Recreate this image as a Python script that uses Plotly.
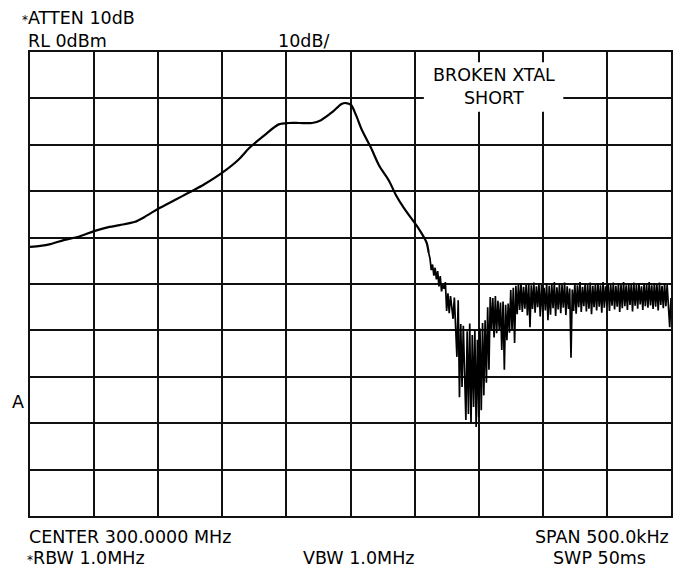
import plotly.graph_objects as go

# Spectrum analyzer trace: frequency offset from centre (kHz) and level (dBm)
smooth_khz = [-250, -242, -234, -223, -211, -200, -188, -180, -168, -161, -150,
              -137, -126, -114, -100, -87, -79, -67, -56, -48, -40, -30, -23,
              -14, -7, -3.5, 0.4, 4.3, 8.9, 15.9, 22.2, 29.9, 35.4, 41.6, 48.6,
              53.3, 57.2, 59.5, 61.0]
smooth_dbm = [-42.0, -41.8, -41.4, -40.5, -39.7, -38.6, -37.7, -37.3, -36.6,
              -35.6, -33.8, -31.9, -30.3, -28.5, -26.0, -23.1, -20.7, -17.9,
              -15.6, -15.3, -15.3, -15.3, -14.7, -12.9, -11.2, -11.0, -11.4,
              -13.6, -16.8, -20.6, -24.4, -27.7, -30.8, -33.6, -36.3, -38.1,
              -39.9, -41.2, -43.3]

# Noisy skirt and noise floor, one sample per kHz from +62 kHz to +250 kHz
noise_start_khz = 62
noise_dbm = [
    -44.5, -47.0, -45.8, -48.2, -46.5, -49.0, -47.2, -50.5, -48.3, -51.6,
    -50.2, -51.0, -49.6, -55.8, -52.0, -56.3, -52.6, -55.0, -57.5, -52.9,
    -58.0, -65.7, -53.5, -74.4, -58.6, -72.2, -59.0, -71.3, -79.3, -60.2,
    -78.0, -58.5, -80.0, -61.0, -76.5, -60.0, -80.8, -62.0, -78.7, -59.6,
    -77.2, -58.4, -74.0, -57.8, -71.3, -55.0, -68.5, -52.8, -60.0, -53.0,
    -61.5, -52.6, -60.6, -53.6, -59.8, -54.0, -64.2, -53.8, -68.5, -54.5,
    -62.1, -54.2, -60.5, -51.3, -59.9, -50.8, -62.7, -50.4, -56.5, -50.0,
    -55.6, -49.8, -56.0, -50.6, -55.3, -50.1, -56.8, -49.9, -59.3, -50.3,
    -55.4, -49.7, -56.2, -50.5, -55.0, -49.9, -57.0, -50.2, -56.1, -50.8,
    -55.7, -49.8, -57.8, -50.4, -56.6, -50.0, -55.2, -49.6, -56.9, -50.7,
    -55.5, -49.9, -56.3, -50.2, -55.1, -49.7, -56.7, -50.5, -55.4, -51.0,
    -65.9, -51.2, -55.8, -49.8, -56.4, -50.3, -55.0, -49.6, -56.0, -50.6,
    -54.8, -49.9, -55.9, -50.1, -55.3, -49.7, -56.5, -50.4, -55.0, -50.0,
    -55.7, -49.8, -54.9, -50.3, -56.2, -49.6, -55.1, -50.5, -54.6, -49.9,
    -55.8, -50.2, -54.7, -49.7, -55.5, -50.4, -54.9, -49.8, -56.0, -50.1,
    -55.2, -49.6, -54.8, -50.3, -55.6, -49.9, -54.5, -50.0, -55.9, -49.7,
    -54.7, -50.2, -55.3, -49.8, -54.4, -50.5, -55.6, -49.9, -54.8, -50.1,
    -55.1, -49.6, -54.6, -50.3, -55.4, -49.8, -54.9, -50.0, -55.7, -49.7,
    -54.5, -50.4, -55.2, -49.9, -54.8, -50.2, -55.5, -59.3, -53.0,
]
noise_khz = [noise_start_khz + i for i in range(len(noise_dbm))]

# Display settings
span_khz = [-250, 250]
level_range = [-100, 0]
FONT = "DejaVu Sans, Arial, sans-serif"
W, H = 674, 571
L, R, T, B = 30, 1, 52, 55

fig = go.Figure()
fig.add_trace(go.Scatter(
    x=smooth_khz, y=smooth_dbm, mode="lines",
    line=dict(color="black", width=2.2, shape="spline", smoothing=0.8),
    hoverinfo="skip", showlegend=False))
fig.add_trace(go.Scatter(
    x=[smooth_khz[-1]] + noise_khz, y=[smooth_dbm[-1]] + noise_dbm,
    mode="lines", line=dict(color="black", width=1.7),
    hoverinfo="skip", showlegend=False))

axis_common = dict(showticklabels=False, ticks="", zeroline=False,
                   showgrid=True, gridcolor="#111", gridwidth=1.6,
                   showline=True, mirror=True, linecolor="#111", linewidth=2,
                   fixedrange=True)
fig.update_xaxes(range=span_khz, tick0=-250, dtick=50, **axis_common)
fig.update_yaxes(range=level_range, tick0=-100, dtick=10, **axis_common)

# Blank panel behind the trace label
fig.add_shape(type="rect", xref="x", yref="y", x0=57.2, x1=166.0,
              y0=-12.9, y1=-2.2, fillcolor="white", line_width=0,
              layer="above")

pw = W - L - R
ph = H - T - B


def px(xp):
    return (xp - L) / pw


def py(yp):
    return (H - B - yp) / ph


labels = [
    ("<span style='font-size:12px'>*</span>ATTEN 10dB", 21, 18, "left"),
    ("RL 0dBm", 27, 41, "left"),
    ("10dB/", 278, 41, "left"),
    ("BROKEN XTAL", 495, 75, "center"),
    ("SHORT", 495, 98, "center"),
    ("A", 18, 402, "center"),
    ("CENTER 300.0000 MHz", 28, 537, "left"),
    ("<span style='font-size:12px'>*</span>RBW 1.0MHz", 26, 558, "left"),
    ("VBW 1.0MHz", 360, 558, "center"),
    ("SPAN 500.0kHz", 672, 537, "right"),
    ("SWP 50ms", 601, 558, "center"),
]
for text, xp, yp, anchor in labels:
    fig.add_annotation(text=text, xref="paper", yref="paper",
                       x=px(xp), y=py(yp), xanchor=anchor, yanchor="middle",
                       showarrow=False, borderpad=0,
                       font=dict(family=FONT, size=17.5, color="black"))

fig.update_layout(width=W, height=H, margin=dict(l=L, r=R, t=T, b=B),
                  paper_bgcolor="white", plot_bgcolor="white")

fig.write_html("out.html", config={"displayModeBar": False})
